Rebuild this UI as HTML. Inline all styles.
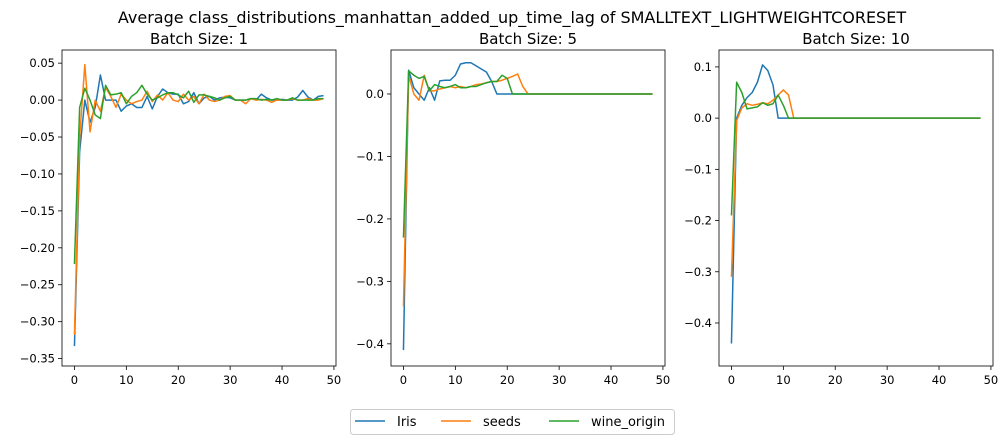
<!DOCTYPE html>
<html><head><meta charset="utf-8"><style>
body{margin:0;background:#fff;}
svg{display:block;font-family:"DejaVu Sans","Liberation Sans",sans-serif;}
</style></head><body>
<svg id="chart" width="1008" height="445" viewBox="0 0 1008 445">
<text x="512" y="23" font-size="16" text-anchor="middle">Average class_distributions_manhattan_added_up_time_lag of SMALLTEXT_LIGHTWEIGHTCORESET</text>
</svg>
<script>
const seriesNames = ["Iris","seeds","wine_origin"];
const colors = ["#1f77b4","#ff7f0e","#2ca02c"];
const batchTitles = ["Batch Size: 1","Batch Size: 5","Batch Size: 10"];
const xTicks = [0,10,20,30,40,50];
const yTicks1 = [0.05,0,-0.05,-0.10,-0.15,-0.20,-0.25,-0.30,-0.35];
const yTickLabels1 = ["0.05","0.00","−0.05","−0.10","−0.15","−0.20","−0.25","−0.30","−0.35"];
const yTicks2 = [0,-0.1,-0.2,-0.3,-0.4];
const yTickLabels2 = ["0.0","−0.1","−0.2","−0.3","−0.4"];
const yTicks3 = [0.1,0,-0.1,-0.2,-0.3,-0.4];
const yTickLabels3 = ["0.1","0.0","−0.1","−0.2","−0.3","−0.4"];
const z = n => Array(n).fill(0);
const p1Iris = [-0.333,-0.07,0.0,-0.03,-0.01,0.034,0.0,0.0,0.0,-0.015,-0.008,-0.005,-0.01,-0.01,0.005,-0.012,0.005,0.015,0.01,0.008,0.008,-0.005,-0.002,0.01,-0.005,0.003,0.005,0.0,0.003,0.004,0.003,0.0,0.0,0.0,0.002,0.0,0.008,0.003,0.0,0.0,0.001,0.0,0.0,0.004,0.013,0.004,0.0,0.005,0.006];
const p1Seeds = [-0.318,-0.05,0.048,-0.043,0.0,-0.015,0.017,0.005,-0.01,0.008,0.0,-0.005,-0.002,0.0,0.012,-0.002,0.007,0.0,0.01,0.0,-0.002,0.008,0.0,0.005,-0.005,0.008,0.0,-0.002,0.0,0.005,0.006,0.0,0.0,-0.005,0.002,0.0,0.001,0.0,-0.003,0.0,0.0,0.0,0.002,0.0,0.0,0.002,0.0,0.0,0.002];
const p1Wine = [-0.222,-0.01,0.016,0.0,-0.02,-0.025,0.02,0.007,0.008,0.01,-0.005,0.005,0.01,0.02,0.008,0.0,0.003,0.007,0.01,0.01,0.007,0.003,0.012,-0.003,0.007,0.007,0.005,0.003,0.0,0.003,0.005,0.0,0.0,0.0,0.002,0.002,0.0,0.001,0.0,0.002,0.0,0.0,0.003,0.0,0.0,0.0,0.0,0.002,0.002];
const p2Iris = [-0.41,0.038,0.01,0.0,-0.01,0.01,-0.01,0.021,0.022,0.022,0.03,0.048,0.05,0.05,0.045,0.04,0.035,0.02,0.0].concat(z(30));
const p2Seeds = [-0.34,0.03,0.0,-0.01,0.03,0.005,0.005,0.008,0.01,0.012,0.01,0.012,0.01,0.012,0.015,0.016,0.018,0.02,0.02,0.022,0.025,0.028,0.032,0.012,0.0].concat(z(24));
const p2Wine = [-0.23,0.037,0.03,0.025,0.028,0.005,0.015,0.012,0.01,0.012,0.015,0.01,0.01,0.012,0.012,0.015,0.018,0.02,0.02,0.03,0.025,0.0].concat(z(27));
const p3Iris = [-0.44,0.0,0.025,0.04,0.05,0.07,0.104,0.093,0.065,0.0,0.0].concat(z(38));
const p3Seeds = [-0.31,-0.005,0.02,0.028,0.025,0.027,0.03,0.028,0.035,0.045,0.055,0.045,0.0].concat(z(36));
const p3Wine = [-0.19,0.07,0.05,0.018,0.02,0.022,0.03,0.025,0.028,0.045,0.025,0.0].concat(z(37));

const NS="http://www.w3.org/2000/svg";
const svg=document.getElementById('chart');
function mk(tag,attrs,parent){const e=document.createElementNS(NS,tag);for(const k in attrs)e.setAttribute(k,attrs[k]);(parent||svg).appendChild(e);return e;}
const panels=[
 {left:62,top:50,w:274,h:316,ymin:-0.360,ymax:0.0678,ticks:yTicks1,labels:yTickLabels1,data:[p1Iris,p1Seeds,p1Wine]},
 {left:391,top:50,w:274,h:316,ymin:-0.4355,ymax:0.0704,ticks:yTicks2,labels:yTickLabels2,data:[p2Iris,p2Seeds,p2Wine]},
 {left:719,top:50,w:274,h:316,ymin:-0.484,ymax:0.133,ticks:yTicks3,labels:yTickLabels3,data:[p3Iris,p3Seeds,p3Wine]}
];
panels.forEach((p,pi)=>{
  const g=mk('g',{});
  
  
  const xs=v=>p.left+(v+2.4)/52.8*p.w;
  const ys=v=>p.top+(p.ymax-v)/(p.ymax-p.ymin)*p.h;
  const t=mk('text',{x:p.left+p.w/2,y:p.top-6,'font-size':15,'text-anchor':'middle'},g);
  t.textContent=batchTitles[pi];
  
  
  xTicks.forEach(v=>{
    const x=xs(v);
    mk('line',{x1:x,x2:x,y1:p.top+p.h,y2:p.top+p.h+4,stroke:'#000','stroke-width':0.8},g);
    const l=mk('text',{x:x,y:p.top+p.h+18,'font-size':11.5,'text-anchor':'middle'},g);
    l.textContent=v;
    
    
  });
  p.ticks.forEach((v,i)=>{
    const y=ys(v);
    mk('line',{x1:p.left-4,x2:p.left,y1:y,y2:y,stroke:'#000','stroke-width':0.8},g);
    const l=mk('text',{x:p.left-7,y:y+4,'font-size':11.5,'text-anchor':'end'},g);
    l.textContent=p.labels[i];
    
    
  });
  p.data.forEach((d,si)=>{
    const pts=d.map((v,i)=>xs(i).toFixed(2)+','+ys(v).toFixed(2)).join(' ');
    const pl=mk('polyline',{points:pts,fill:'none',stroke:colors[si],'stroke-width':1.5,'stroke-linejoin':'round'},g);
    
    
  });
  const r=mk('rect',{x:p.left,y:p.top,width:p.w,height:p.h,fill:'none',stroke:'#000','stroke-width':0.8},g);
  
  
});
const lg=mk('g',{});


mk('rect',{x:350.5,y:409.5,width:324,height:25,rx:3,fill:'#fff',stroke:'#ccc','stroke-width':1},lg);
const lx=[355,441,549];
seriesNames.forEach((n,i)=>{
  const e=mk('g',{},lg);
  
  
  mk('line',{x1:lx[i],x2:lx[i]+30,y1:421,y2:421,stroke:colors[i],'stroke-width':1.5},e);
  const t=mk('text',{x:lx[i]+42,y:426,'font-size':13},e);
  t.textContent=n;
});
</script>
</body></html>
